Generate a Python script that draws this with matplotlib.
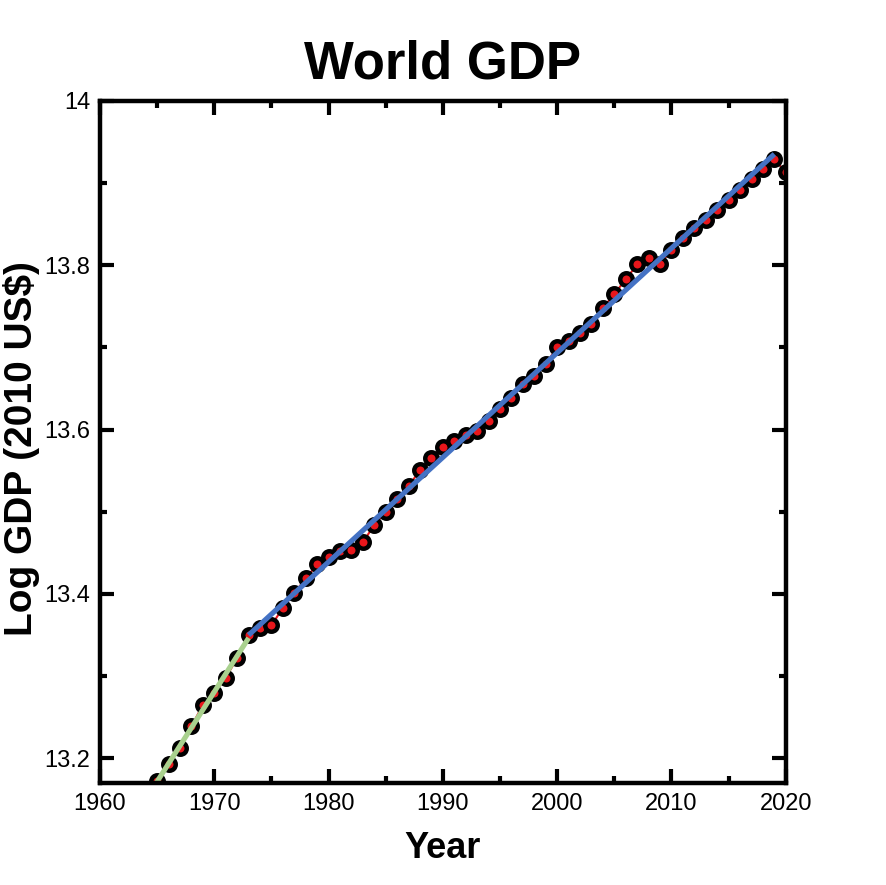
#!/usr/bin/env python3
"""World GDP (log) with two linear trend segments."""
import numpy as np
import matplotlib
matplotlib.use("Agg")
import matplotlib.pyplot as plt
from matplotlib.ticker import MultipleLocator

# ---------------------------------------------------------------------------
# data
# ---------------------------------------------------------------------------
years = list(range(1965, 2021))
log_gdp = [
    13.172, 13.193, 13.213, 13.239, 13.265, 13.280, 13.298, 13.322, 13.350, 13.358,
    13.362, 13.383, 13.401, 13.419, 13.436, 13.445, 13.452, 13.454, 13.463, 13.484,
    13.500, 13.515, 13.531, 13.551, 13.566, 13.579, 13.586, 13.593, 13.598, 13.611,
    13.625, 13.639, 13.655, 13.665, 13.680, 13.700, 13.708, 13.718, 13.729, 13.748,
    13.765, 13.783, 13.801, 13.809, 13.801, 13.819, 13.833, 13.845, 13.855, 13.867,
    13.879, 13.891, 13.905, 13.917, 13.929, 13.913,
]
early_span = (1960, 1973)   # green fit
late_span = (1973, 2019)    # blue fit

x = np.array(years)
y = np.array(log_gdp)

# linear fits for each period
m1 = (x >= early_span[0]) & (x <= early_span[1])
m2 = (x >= late_span[0]) & (x <= late_span[1])
p1 = np.polyfit(x[m1], y[m1], 1)
p2 = np.polyfit(x[m2], y[m2], 1)

# ---------------------------------------------------------------------------
# plot
# ---------------------------------------------------------------------------
plt.rcParams['font.family'] = ['Liberation Sans', 'DejaVu Sans']

fig = plt.figure(figsize=(8.86, 8.85), dpi=100)
ax = fig.add_axes([0.1129, 0.1153, 0.7740, 0.7707])

ax.plot(x, y, color='#e8161b', lw=1.5, zorder=2)
ax.plot(x, y, 'o', ms=9, mfc='#e8161b', mec='black', mew=3.2, zorder=3)

xe = np.linspace(early_span[0], early_span[1], 50)
xl = np.linspace(late_span[0], late_span[1], 50)
ax.plot(xe, np.polyval(p1, xe), color='#a9d18e', lw=3.7, zorder=4, solid_capstyle='butt')
ax.plot(xl, np.polyval(p2, xl), color='#4472c4', lw=3.7, zorder=4, solid_capstyle='butt')

ax.set_xlim(1960, 2020)
ax.set_ylim(13.17, 14.0)
ax.xaxis.set_major_locator(MultipleLocator(10))
ax.xaxis.set_minor_locator(MultipleLocator(5))
ax.yaxis.set_major_locator(MultipleLocator(0.2))
ax.yaxis.set_minor_locator(MultipleLocator(0.1))
ax.set_yticks([13.2, 13.4, 13.6, 13.8, 14.0])
ax.set_yticklabels(['13.2', '13.4', '13.6', '13.8', '14'])

ax.tick_params(which='both', direction='in', top=True, right=True,
               labelsize=17, pad=7)
ax.tick_params(which='major', length=10, width=3)
ax.tick_params(which='minor', length=5, width=3)
for spine in ax.spines.values():
    spine.set_linewidth(3.2)
    spine.set_zorder(6)

ax.set_title('World GDP', fontsize=38, fontweight='bold', pad=16)
ax.set_xlabel('Year', fontsize=26, fontweight='bold', labelpad=12)
ax.set_ylabel('Log GDP (2010 US$)', fontsize=28, fontweight='bold')
ax.yaxis.set_label_coords(-0.088, 0.491)

fig.savefig('out.png', dpi=100)
